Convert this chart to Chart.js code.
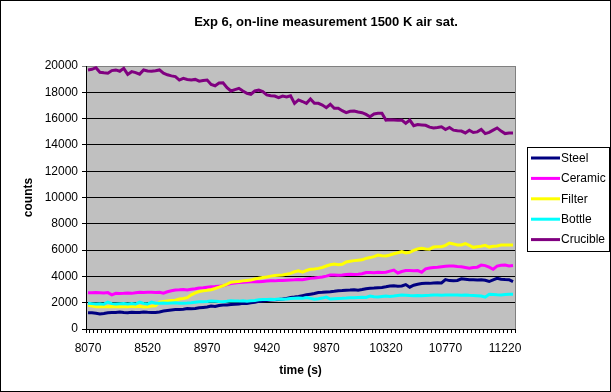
<!DOCTYPE html>
<html><head><meta charset="utf-8">
<script src="https://cdn.jsdelivr.net/npm/chart.js@4.4.1/dist/chart.umd.min.js"></script>
<style>html,body{margin:0;padding:0;background:#fff}#wrap{width:611px;height:392px;position:relative}</style>
</head><body><div id="wrap"><canvas id="c" width="611" height="392"></canvas></div>
<script>
const chartTitle = 'Exp 6, on-line measurement 1500 K air sat.';
const xTitle = 'time (s)';
const yTitle = 'counts';
const categories = [8070,8100,8130,8160,8190,8220,8250,8280,8310,8340,8370,8400,8430,8460,8490,8520,8550,8580,8610,8640,8670,8700,8730,8760,8790,8820,8850,8880,8910,8940,8970,9000,9030,9060,9090,9120,9150,9180,9210,9240,9270,9300,9330,9360,9390,9420,9450,9480,9510,9540,9570,9600,9630,9660,9690,9720,9750,9780,9810,9840,9870,9900,9930,9960,9990,10020,10050,10080,10110,10140,10170,10200,10230,10260,10290,10320,10350,10380,10410,10440,10470,10500,10530,10560,10590,10620,10650,10680,10710,10740,10770,10800,10830,10860,10890,10920,10950,10980,11010,11040,11070,11100,11130,11160,11190,11220,11250,11280];
const xTickLabels = ['8070','8520','8970','9420','9870','10320','10770','11220'];
const yTickValues = [0,2000,4000,6000,8000,10000,12000,14000,16000,18000,20000];
const seriesNames = ['Steel','Ceramic','Filter','Bottle','Crucible'];
const seriesColors = ['#000080','#FF00FF','#FFFF00','#00FFFF','#800080'];
const steel = [1240,1230,1200,1140,1180,1230,1260,1250,1290,1260,1240,1270,1250,1260,1300,1270,1250,1260,1300,1370,1410,1450,1480,1490,1510,1560,1540,1560,1610,1640,1670,1740,1720,1780,1820,1830,1860,1880,1900,1950,1940,1990,2030,2100,2120,2160,2200,2230,2250,2280,2330,2400,2430,2480,2540,2600,2650,2700,2770,2790,2820,2840,2870,2910,2920,2950,2960,2990,2950,3000,3060,3090,3110,3140,3160,3210,3270,3280,3250,3270,3380,3180,3330,3400,3460,3480,3470,3500,3520,3500,3760,3680,3670,3690,3820,3780,3740,3750,3730,3740,3700,3610,3740,3850,3790,3760,3750,3600];
const ceramic = [2760,2750,2770,2760,2740,2770,2600,2720,2700,2710,2730,2710,2750,2790,2780,2800,2790,2770,2800,2730,2830,2910,2960,2980,3010,2970,3020,3060,3120,3144,3180,3210,3230,3260,3280,3380,3460,3500,3530,3560,3580,3600,3610,3590,3620,3650,3670,3660,3690,3680,3710,3730,3740,3770,3740,3800,3850,3880,3920,3950,4020,4100,4110,4090,4110,4140,4160,4150,4160,4200,4300,4290,4280,4310,4300,4320,4400,4480,4260,4370,4440,4440,4430,4440,4320,4580,4640,4680,4700,4740,4770,4790,4790,4760,4740,4680,4620,4670,4700,4860,4820,4700,4540,4780,4840,4860,4800,4830];
const filter = [1800,1750,1700,1720,1700,1690,1710,1700,1720,1700,1690,1720,1700,1730,1680,1700,1740,1760,2050,2100,2130,2160,2190,2280,2320,2380,2600,2750,2850,2900,2940,2990,3080,3180,3290,3420,3560,3590,3620,3660,3690,3720,3800,3860,3910,3960,4020,4060,4090,4110,4170,4230,4350,4430,4330,4450,4540,4570,4610,4680,4790,4880,4940,4880,4920,5100,5150,5200,5230,5260,5370,5430,5500,5620,5570,5550,5630,5720,5800,5880,5780,5830,5980,6080,6135,6090,6070,6230,6260,6260,6360,6540,6470,6390,6390,6500,6360,6210,6260,6300,6360,6230,6290,6320,6390,6390,6390,6380];
const bottle = [1950,1930,1900,1920,1890,2050,1930,1900,1920,1930,1910,1940,1900,2040,1950,1900,2050,1960,1950,1980,1950,1970,1990,1960,1950,1970,2000,2040,2070,2080,2100,2130,2110,2090,2080,2110,2150,2130,2120,2140,2120,2150,2170,2230,2250,2240,2260,2250,2280,2270,2290,2320,2340,2350,2330,2400,2330,2260,2300,2350,2430,2280,2300,2320,2330,2350,2380,2370,2400,2410,2400,2500,2460,2440,2470,2500,2480,2510,2550,2580,2570,2540,2530,2540,2520,2550,2560,2580,2590,2570,2580,2590,2580,2590,2570,2580,2560,2550,2530,2510,2420,2640,2620,2600,2590,2620,2640,2650];
const crucible = [19700,19750,19870,19520,19480,19450,19650,19700,19600,19820,19360,19570,19500,19380,19700,19620,19600,19640,19700,19450,19330,19250,19190,18930,19060,18980,18930,18980,18850,18900,18930,18600,18500,18700,18720,18350,18100,18200,18300,18100,17920,17850,18100,18170,18050,17800,17740,17720,17600,17720,17650,17740,17160,17420,17300,17160,17490,17160,17160,17030,16830,17090,16780,16790,16600,16450,16560,16580,16500,16450,16320,16140,16350,16400,16400,15890,15920,15900,15880,15890,15640,15890,15460,15550,15520,15490,15350,15290,15320,15380,15170,15330,15120,15080,15050,14910,15120,14940,14990,15170,14860,14950,15120,15290,15050,14860,14900,14910];
const seriesValues = [steel, ceramic, filter, bottle, crucible];

const FONT = "'Liberation Sans', Arial, sans-serif";

const decor = {
  id: 'decor',
  beforeDraw(chart) {
    const {ctx, chartArea: a} = chart;
    ctx.save();
    ctx.fillStyle = '#fff';
    ctx.fillRect(0, 0, chart.width, chart.height);
    ctx.fillStyle = '#C0C0C0';
    ctx.fillRect(a.left, a.top, a.right - a.left, a.bottom - a.top);
    ctx.restore();
  },
  afterDraw(chart) {
    const {ctx, chartArea: a} = chart;
    ctx.save();
    ctx.strokeStyle = '#808080';
    ctx.lineWidth = 1;
    ctx.beginPath();
    ctx.moveTo(Math.round(a.right) + 0.5, a.top);
    ctx.lineTo(Math.round(a.right) + 0.5, a.bottom);
    ctx.stroke();
    ctx.strokeStyle = '#000';
    ctx.strokeRect(0.5, 0.5, chart.width - 1, chart.height - 1);
    ctx.fillStyle = '#000';
    ctx.font = 'bold 13px ' + FONT;
    ctx.textAlign = 'center';
    ctx.textBaseline = 'middle';
    ctx.fillText(chartTitle, 326, 22);
    const lx = 527, ly = 147, lw = 82, lh = 104;
    ctx.fillStyle = '#fff';
    ctx.fillRect(lx, ly, lw, lh);
    ctx.strokeStyle = '#000';
    ctx.strokeRect(lx + 0.5, ly + 0.5, lw, lh);
    ctx.font = '12px ' + FONT;
    ctx.textAlign = 'left';
    chart.data.datasets.forEach((ds, i) => {
      const y = 158 + i * 20.4;
      ctx.strokeStyle = ds.borderColor;
      ctx.lineWidth = 3;
      ctx.beginPath();
      ctx.moveTo(531, y);
      ctx.lineTo(560, y);
      ctx.stroke();
      ctx.fillStyle = '#000';
      ctx.fillText(ds.label, 561, y + 0.5);
    });
    ctx.restore();
  }
};

new Chart(document.getElementById('c'), {
  type: 'line',
  data: {
    labels: categories,
    datasets: seriesNames.map((n, i) => ({
      label: n,
      data: seriesValues[i],
      borderColor: seriesColors[i],
      backgroundColor: seriesColors[i],
      borderWidth: 3,
      pointRadius: 0,
      tension: 0,
      fill: false,
      order: 5 - i
    }))
  },
  options: {
    responsive: false,
    animation: false,
    devicePixelRatio: 1,
    layout: {padding: {left: 0, right: 96, top: 66, bottom: 0}},
    plugins: {legend: {display: false}, title: {display: false}, tooltip: {enabled: false}},
    scales: {
      x: {
        type: 'category',
        offset: true,
        afterFit(s) { s.height = 63; },
        grid: {display: true, drawOnChartArea: false, drawTicks: true, tickLength: 4, offset: true, color: '#000'},
        border: {display: true, color: '#000', width: 1},
        ticks: {
          autoSkip: false, maxRotation: 0, minRotation: 0, padding: 8,
          color: '#000', font: {family: FONT, size: 12},
          callback(value) {
            const l = String(this.getLabelForValue(value));
            return xTickLabels.includes(l) ? l : '';
          }
        },
        title: {display: true, text: xTitle, color: '#000', font: {family: FONT, size: 12, weight: 'bold'}, padding: {top: 0, bottom: 14}}
      },
      y: {
        min: 0, max: 20000,
        afterFit(s) { s.width = 86; },
        afterBuildTicks(s) { s.ticks = yTickValues.map(v => ({value: v})); },
        grid: {drawTicks: true, tickLength: 4, color: ctx => ctx.tick && ctx.tick.value === 20000 ? '#808080' : '#000'},
        border: {display: true, color: '#000', width: 1},
        ticks: {padding: 4, color: '#000', font: {family: FONT, size: 12}, callback: v => String(v)},
        title: {display: true, text: yTitle, color: '#000', font: {family: FONT, size: 12, weight: 'bold'}, padding: {top: 21, bottom: 0}}
      }
    }
  },
  plugins: [decor]
});
</script>
</body></html>
